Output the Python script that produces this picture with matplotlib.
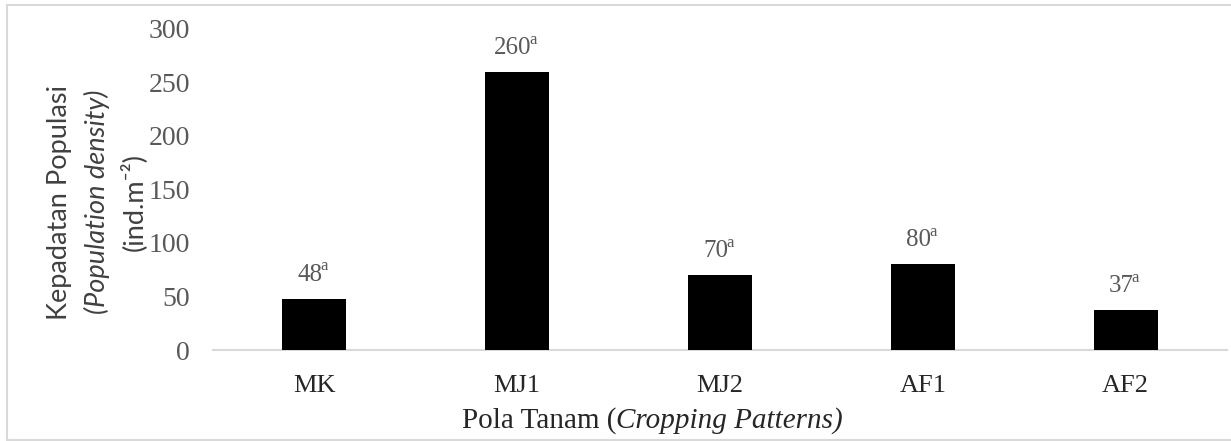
import matplotlib
matplotlib.use("Agg")
import matplotlib.pyplot as plt
from matplotlib.lines import Line2D
from matplotlib.text import Annotation

categories = ["MK", "MJ1", "MJ2", "AF1", "AF2"]
values = [48, 260, 70, 80, 37]
letters = ["a", "a", "a", "a", "a"]
yticks = [0, 50, 100, 150, 200, 250, 300]

W, H = 1231, 441
fig = plt.figure(figsize=(W / 100, H / 100), dpi=100)
fig.patch.set_facecolor("white")

left, right, bottom, top = 213, 1227, 350, 29
ax = fig.add_axes([left / W, 1 - bottom / H, (right - left) / W, (bottom - top) / H])

x = list(range(len(categories)))
ax.bar(x, values, width=0.316, color="black", zorder=3)
ax.set_xlim(-0.5, len(categories) - 0.5)
ax.set_ylim(0, 300)
ax.set_yticks(yticks)
ax.set_xticks(x)
ax.set_xticklabels(categories)

serif = "Liberation Serif"
for lab in ax.get_yticklabels():
    lab.set_fontfamily(serif)
    lab.set_fontsize(20)
    lab.set_color("#595959")
for lab in ax.get_xticklabels():
    lab.set_fontfamily(serif)
    lab.set_fontsize(19)
    lab.set_color("#262626")

ax.tick_params(axis="both", length=0)
ax.tick_params(axis="y", pad=16.5)
ax.tick_params(axis="x", pad=18)
for s in ["top", "right", "left"]:
    ax.spines[s].set_visible(False)
ax.spines["bottom"].set_color("#d9d9d9")
ax.spines["bottom"].set_linewidth(1.5)

# value labels with superscript letters
for xi, v, let in zip(x, values, letters):
    t = ax.annotate(str(v), xy=(xi, v), xytext=(-3, 13), textcoords="offset points",
                    ha="center", va="baseline", fontfamily=serif, fontsize=18,
                    color="#595959")
    ax.annotate(let, xy=(1, 0), xycoords=t, xytext=(-1.5, 8), textcoords="offset points",
                ha="left", va="bottom", fontfamily=serif, fontsize=12, color="#595959")

# y-axis label (three lines)
sans = ["Lato", "DejaVu Sans"]
ycen = 1 - 202 / H
fig.text(59 / W, ycen, "Kepadatan Populasi", rotation=90, ha="center", va="center",
         fontfamily=sans, fontsize=19.5, color="#404040")
fig.text(97 / W, ycen, "(Population density)", rotation=90, ha="center", va="center",
         fontfamily=sans, fontstyle="italic", fontsize=19.5, color="#404040")
fig.text(133 / W, ycen, "(ind.m\u207b\u00b2)", rotation=90, ha="center", va="center",
         fontfamily=sans, fontsize=19.5, color="#404040")

# x-axis label: normal + italic parts
t1 = fig.text(462 / W, 1 - 428 / H, "Pola Tanam (", ha="left", va="baseline",
              fontfamily=serif, fontsize=21, color="#262626")
a2 = Annotation("Cropping Patterns)", xy=(1, 0), xycoords=t1, xytext=(0, 0),
                textcoords="offset points", ha="left", va="bottom",
                fontfamily=serif, fontstyle="italic", fontsize=21, color="#262626")
fig.add_artist(a2)

# figure border
bc = "#d9d9d9"
fig.add_artist(Line2D([7 / W, 7 / W], [1 - 5 / H, 1 - 440 / H], color=bc, lw=1.5,
                      transform=fig.transFigure))
fig.add_artist(Line2D([7 / W, 1], [1 - 5 / H, 1 - 5 / H], color=bc, lw=1.5,
                      transform=fig.transFigure))
fig.add_artist(Line2D([7 / W, 1], [1 - 440 / H, 1 - 440 / H], color=bc, lw=1.5,
                      transform=fig.transFigure))

fig.savefig("out.png", dpi=100, facecolor="white")
